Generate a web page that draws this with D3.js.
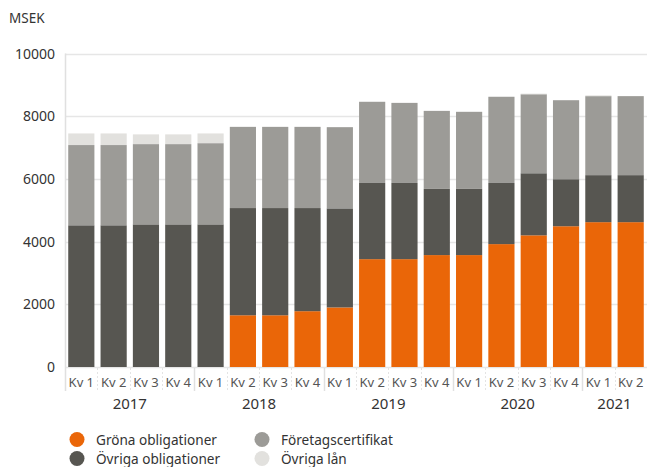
<!DOCTYPE html>
<head>
  <meta charset="utf-8">
  <title>MSEK</title>
</head>
<style>
body { margin: 0; background: #fff; }
text { font-family: "Noto Sans", Roboto, sans-serif; }
</style>
<svg id="svg" width="647" height="467"></svg>
<script src="https://cdn.jsdelivr.net/npm/d3@7"></script>
<script>

// kvartal och år
var quarters = ["Kv 1","Kv 2","Kv 3","Kv 4","Kv 1","Kv 2","Kv 3","Kv 4","Kv 1","Kv 2","Kv 3","Kv 4","Kv 1","Kv 2","Kv 3","Kv 4","Kv 1","Kv 2"];
var years = ["2017","2017","2017","2017","2018","2018","2018","2018","2019","2019","2019","2019","2020","2020","2020","2020","2021","2021"];

// serier, MSEK
var grona    = [0, 0, 0, 0, 0, 1650, 1650, 1780, 1900, 3440, 3440, 3570, 3570, 3920, 4200, 4490, 4620, 4620];
var ovrigaOb = [4520, 4520, 4550, 4550, 4550, 3420, 3420, 3290, 3160, 2430, 2430, 2110, 2110, 1950, 1980, 1500, 1500, 1500];
var foretag  = [2560, 2560, 2560, 2560, 2590, 2590, 2590, 2590, 2590, 2590, 2555, 2490, 2460, 2750, 2520, 2520, 2520, 2520];
var ovrigaLan = [370, 370, 310, 310, 310, 0, 0, 0, 0, 0, 0, 0, 0, 0, 20, 0, 25, 0];

var seriesNames = ["Gröna obligationer", "Övriga obligationer", "Företagscertifikat", "Övriga lån"];
var colors = ["#ea6608", "#575651", "#9c9b97", "#e2e1de"];
var yTicks = [0, 2000, 4000, 6000, 8000, 10000];

var svg = d3.select("svg"),
    plotLeft = 65, plotRight = 647, plotTop = 53.5, plotBottom = 367;

var rows = quarters.map(function(q, i) {
  return { i: i, q: q, year: years[i], g: grona[i], o: ovrigaOb[i], f: foretag[i], l: ovrigaLan[i] };
});

var x = d3.scaleBand()
    .domain(d3.range(rows.length))
    .range([plotLeft, plotRight])
    .paddingInner(0.19)
    .paddingOuter(0.1);

var y = d3.scaleLinear().domain([0, 10000]).range([plotBottom, plotTop]);

var stack = d3.stack().keys(["g", "o", "f", "l"]);
var layers = stack(rows);

// rutnät
svg.append("g").selectAll("line")
  .data(yTicks)
  .enter().append("line")
    .attr("x1", plotLeft).attr("x2", plotRight)
    .attr("y1", function(d) { return Math.round(y(d)) + 0.5; })
    .attr("y2", function(d) { return Math.round(y(d)) + 0.5; })
    .attr("stroke", "#e6e6e6").attr("stroke-width", 1.5);

svg.append("line")
    .attr("x1", plotLeft + 0.5).attr("x2", plotLeft + 0.5)
    .attr("y1", plotTop).attr("y2", 391)
    .attr("stroke", "#e0e0e0").attr("stroke-width", 1.5);

svg.append("g").selectAll("text")
  .data(yTicks)
  .enter().append("text")
    .attr("x", 55)
    .attr("y", function(d) { return y(d) + 5; })
    .attr("text-anchor", "end")
    .attr("font-size", 14)
    .attr("fill", "#333")
    .text(function(d) { return d; });

svg.append("text")
    .attr("x", 9).attr("y", 23)
    .attr("font-size", 13.5)
    .attr("fill", "#333")
    .text("MSEK");

// staplar
svg.append("g").selectAll("g")
  .data(layers)
  .enter().append("g")
    .attr("fill", function(d, k) { return colors[k]; })
  .selectAll("rect")
  .data(function(d) { return d; })
  .enter().append("rect")
    .attr("x", function(d) { return x(d.data.i); })
    .attr("width", x.bandwidth())
    .attr("y", function(d) { return y(d[1]); })
    .attr("height", function(d) { return y(d[0]) - y(d[1]); });

// x-axel: avdelare
var gap = x.step() * x.paddingInner();
var seps = d3.range(1, rows.length).map(function(i) {
  return { x: x(i) - gap / 2, major: years[i] !== years[i - 1] };
});

svg.append("g").selectAll("line")
  .data(seps)
  .enter().append("line")
    .attr("x1", function(d) { return Math.round(d.x) + 0.5; })
    .attr("x2", function(d) { return Math.round(d.x) + 0.5; })
    .attr("y1", plotBottom + 1).attr("y2", 391)
    .attr("stroke", function(d) { return d.major ? "#e0e0e0" : "#e4e4e4"; })
    .attr("stroke-width", function(d) { return d.major ? 1.5 : 1; })
    .attr("stroke-dasharray", function(d) { return d.major ? null : "2,2"; });

svg.append("g").selectAll("text")
  .data(rows)
  .enter().append("text")
    .attr("x", function(d) { return x(d.i) + x.bandwidth() / 2; })
    .attr("y", 387)
    .attr("text-anchor", "middle")
    .attr("font-size", 13)
    .attr("fill", "#555")
    .text(function(d) { return d.q; });

var yearGroups = d3.groups(rows, function(d) { return d.year; });
svg.append("g").selectAll("text")
  .data(yearGroups)
  .enter().append("text")
    .attr("x", function(d) {
      var a = d[1][0].i, b = d[1][d[1].length - 1].i;
      return (x(a) + x(b) + x.bandwidth()) / 2;
    })
    .attr("y", 409)
    .attr("text-anchor", "middle")
    .attr("font-size", 15)
    .attr("fill", "#333")
    .text(function(d) { return d[0]; });

// förklaring
var legendPos = [[77, 439.5], [77, 458.5], [262, 439.5], [262, 458.5]];
var legend = svg.append("g").selectAll("g")
  .data(seriesNames)
  .enter().append("g")
    .attr("transform", function(d, k) { return "translate(" + legendPos[k][0] + "," + legendPos[k][1] + ")"; });

legend.append("circle")
    .attr("r", 7.5)
    .attr("fill", function(d, k) { return colors[k]; });

legend.append("text")
    .attr("x", 19).attr("y", 5)
    .attr("font-size", 13.6)
    .attr("fill", "#333")
    .text(function(d) { return d; });

</script>
